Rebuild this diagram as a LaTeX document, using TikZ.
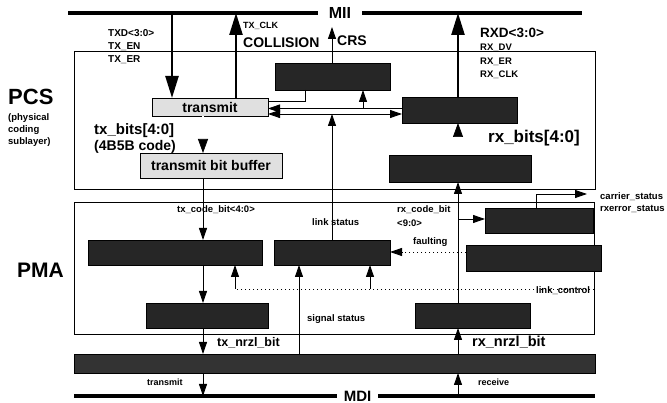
\documentclass[tikz,border=0pt]{standalone}
\usepackage{fontspec}
\setmainfont{Liberation Sans}
\usetikzlibrary{arrows.meta}
\newcommand{\fs}[1]{\fontsize{#1}{#1}\selectfont}
\begin{document}
\begin{tikzpicture}[x=1pt,y=-1pt,
  dbox/.style={draw=black, fill=black!85, inner sep=0pt, outer sep=0pt, line width=0.8pt},
  lbox/.style={draw=black, fill=black!12, inner sep=0pt, outer sep=0pt, line width=0.8pt, font=\bfseries\fs{14}},
  bus/.style={line width=4pt},
  fat/.style={line width=2.4pt, -{Triangle[width=13pt,length=22pt]}},
  tarr/.style={line width=0.9pt, -{Triangle[width=8pt,length=12pt]}},
  tboth/.style={line width=0.9pt, {Triangle[width=8pt,length=12pt]}-{Triangle[width=8pt,length=12pt]}},
  tline/.style={line width=0.9pt},
  dline/.style={line width=0.6pt, dash pattern=on 1pt off 3pt},
  dbl/.style={double, double distance=1.4pt, line width=0.7pt, -{Triangle[width=10pt,length=14pt]}},
  boxline/.style={line width=0.8pt},
  lab/.style={anchor=west, inner sep=0pt, font=\bfseries\fs{#1}},
  lab/.default=9.5]
\fill[white] (0,0) rectangle (667,403);
\useasboundingbox (0,0) rectangle (667,403);

% frames
\draw[boxline] (74,51) rectangle (595,189);
\draw[boxline] (74,202) rectangle (594,334);

% boxes
\node[dbox, minimum width=115pt, minimum height=27pt] (crsbox) at (332.5,76.5) {};
\node[lbox, minimum width=116pt, minimum height=18pt] (txbox) at (210,107) {transmit};
\node[dbox, minimum width=115pt, minimum height=26pt] (rxbox) at (459.5,110) {};
\node[lbox, minimum width=142pt, minimum height=25pt] (bufbox) at (211,165.5) {transmit bit buffer};
\node[dbox, minimum width=142pt, minimum height=27pt] (decbox) at (460,168.5) {};
\node[dbox, minimum width=174pt, minimum height=25pt] (boxA) at (175,252.5) {};
\node[dbox, minimum width=116pt, minimum height=25pt] (boxB) at (332,252.5) {};
\node[dbox, minimum width=108pt, minimum height=25pt] (boxE) at (539,220.5) {};
\node[dbox, minimum width=135pt, minimum height=26pt] (boxF) at (533.5,258) {};
\node[dbox, minimum width=122pt, minimum height=25pt] (boxC) at (207,315.5) {};
\node[dbox, minimum width=115pt, minimum height=25pt] (boxD) at (472.5,315.5) {};
\node[dbox, minimum width=521pt, minimum height=19pt, fill=black!80] (bar) at (334.5,363.5) {};

% helper coordinates
\coordinate (miiL) at (68,13);
\coordinate (miiR) at (582,13);
\coordinate (mdiL) at (74,396);
\coordinate (mdiR) at (595,396);
\coordinate (xtxd) at (172,0);
\coordinate (xclk) at (236,0);
\coordinate (xcrs) at (332,0);
\coordinate (xrxd) at (458,0);
\coordinate (xtx) at (203,0);
\coordinate (xrx) at (458,0);
\coordinate (xcs) at (363,0);
\coordinate (xsig) at (299,0);
\coordinate (xla) at (235,0);
\coordinate (xlb) at (370,0);
\coordinate (xcar) at (536,0);
\coordinate (crstip) at (332,27);
\coordinate (kk) at (305,101);
\coordinate (yu) at (0,108.5);
\coordinate (yl) at (0,114);
\coordinate (ye) at (0,219);
\coordinate (yf) at (0,252);
\coordinate (carend) at (587,194);
\coordinate (lc) at (594,289);

% connectors PCS
\draw[fat] (miiL -| xtxd) -- (txbox.north -| xtxd);
\draw[fat] (txbox.north -| xclk) -- (miiL -| xclk);
\draw[tarr] (crsbox.north -| xcrs) -- (crstip);
\draw[fat] (rxbox.north -| xrxd) -- (miiL -| xrxd);
\draw[tline] (crsbox.south -| kk) -- (kk) -- (txbox.east |- kk);
\draw[tarr] (rxbox.west |- yu) -- (txbox.east |- yu);
\draw[tarr] (xcs |- yu) -- (crsbox.south -| xcs);
\draw[tboth] (txbox.east |- yl) -- (rxbox.west |- yl);
\draw[tarr] (boxB.north -| xcrs) -- (xcrs |- yl);
\draw[dbl] (txbox.south -| xtx) -- (bufbox.north -| xtx);
\draw[dbl] (decbox.north -| xrx) -- (rxbox.south -| xrx);

% connectors PMA
\draw[tarr] (bufbox.south -| xtx) -- (boxA.north -| xtx);
\draw[tarr] (boxA.south -| xtx) -- (boxC.north -| xtx);
\draw[tarr] (boxC.south -| xtx) -- (bar.north -| xtx);
\draw[tarr] (bar.south -| xtx) -- (mdiL -| xtx);
\draw[tarr] (mdiL -| xrx) -- (bar.south -| xrx);
\draw[tarr] (bar.north -| xrx) -- (boxD.south -| xrx);
\draw[tarr] (boxD.north -| xrx) -- (decbox.south -| xrx);
\draw[tarr] (xrx |- ye) -- (boxE.west |- ye);
\draw[tarr] (boxE.north -| xcar) |- (carend);
\draw[tarr] (bar.north -| xsig) -- (boxB.south -| xsig);
\draw[dline] (boxF.west |- yf) -- ([xshift=12pt]boxB.east |- yf);
\draw[tarr] ([xshift=13pt]boxB.east |- yf) -- (boxB.east |- yf);
\draw[dline] (lc) -- (xla |- lc);
\draw[tarr] (xla |- lc) -- (boxA.south -| xla);
\draw[tarr] (xlb |- lc) -- (boxB.south -| xlb);

% buses
\node[inner xsep=11pt, inner ysep=0pt, font=\bfseries\fs{16}] (mii) at (340,13) {MII};
\draw[bus] (miiL) -- (mii.west);
\draw[bus] (mii.east) -- (miiR);
\node[inner xsep=7pt, inner ysep=0pt, font=\bfseries\fs{15}] (mdi) at (357.5,396) {MDI};
\draw[bus] (mdiL) -- (mdi.west);
\draw[bus] (mdi.east) -- (mdiR);

% labels
\node[lab=10] (l1) at (108,33) {TXD<3:0>};
\node[lab=10] (l2) at (108,47) {TX\_EN};
\node[lab=10] (l3) at (108,60) {TX\_ER};
\node[lab=9] (l4) at (243,26) {TX\_CLK};
\node[lab=14] (l5) at (243,43) {COLLISION};
\node[lab=14] (l6) at (337,41) {CRS};
\node[lab=13.5] (l7) at (480,33) {RXD<3:0>};
\node[lab=9.5] (l8) at (480,48) {RX\_DV};
\node[lab=9.5] (l9) at (480,62) {RX\_ER};
\node[lab=9.5] (l10) at (480,75) {RX\_CLK};
\node[lab=22] (pcs) at (8,97) {PCS};
\node[lab=9.5] (p1) at (8,118) {(physical};
\node[lab=9.5] (p2) at (8,130) {coding};
\node[lab=9.5] (p3) at (8,142) {sublayer)};
\node[lab=21] (pma) at (17,270) {PMA};
\node[lab=15] (tb) at (94,131) {tx\_bits[4:0]};
\node[lab=14] (tb2) at (94,147) {(4B5B code)};
\node[lab=17] (rb) at (488,138) {rx\_bits[4:0]};
\node[lab=9.5] (cs) at (600,197) {carrier\_status};
\node[lab=9.5] (rs) at (600,209) {rxerror\_status};
\node[lab=9.5] (tcb) at (177,210) {tx\_code\_bit<4:0>};
\node[lab=9.5] (rcb) at (397,210) {rx\_code\_bit};
\node[lab=9.5] (rcb2) at (397,223) {<9:0>};
\node[lab=9.5] (ls) at (312,222) {link status};
\node[lab=9.5] (fl) at (413,242) {faulting};
\node[lab=9.5] (lcl) at (536,291) {link\_control};
\node[lab=9.5] (ss) at (307,319) {signal status};
\node[lab=12.5] (tn) at (217,343) {tx\_nrzl\_bit};
\node[lab=14.5] (rn) at (472,342) {rx\_nrzl\_bit};
\node[lab=9] (tr) at (147,382) {transmit};
\node[lab=9] (rc) at (478,382) {receive};
\end{tikzpicture}
\end{document}
